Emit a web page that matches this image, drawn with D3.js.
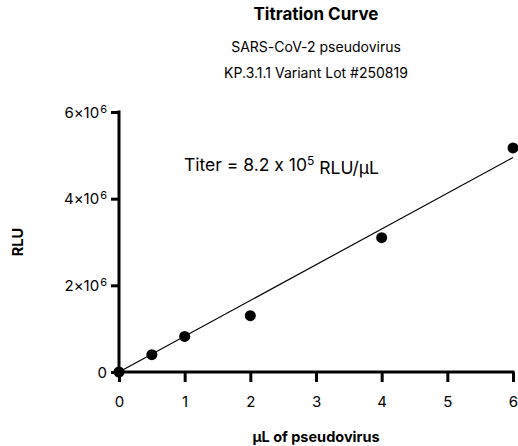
<!DOCTYPE html>
<html>
<head>
<meta charset="utf-8">
<script src="https://cdn.jsdelivr.net/npm/d3@7"></script>
<style>
  body { margin: 0; background: #fff; }
  text { font-family: Inter, "Noto Sans", sans-serif; fill: #000; font-feature-settings: "calt" 0; }
</style>
</head>
<body>
<script>
// data
const volumes = [0, 0.5, 1, 2, 4, 6];
const rlu = [0, 0.4e6, 0.82e6, 1.3e6, 3.1e6, 5.17e6];
const fitSlope = 8.25e5;
const xTicks = [0, 1, 2, 3, 4, 5, 6];
const yTicks = [0, 2e6, 4e6, 6e6];
const titles = ['Titration Curve', 'SARS-CoV-2 pseudovirus', 'KP.3.1.1 Variant Lot #250819'];

const width = 518, height = 446;
const margin = {left: 119, right: 5, top: 112, bottom: 74};

const svg = d3.select('body').append('svg')
    .attr('width', width)
    .attr('height', height);

const x = d3.scaleLinear().domain([0, 6]).range([margin.left, width - margin.right]);
const y = d3.scaleLinear().domain([0, 6e6]).range([height - margin.bottom, margin.top]);

// titles
const cx = (x.range()[0] + x.range()[1]) / 2;
svg.append('text').attr('x', cx).attr('y', 20).attr('text-anchor', 'middle')
    .attr('font-size', 17).attr('font-weight', 'bold').text(titles[0]);
svg.append('text').attr('x', cx).attr('y', 52).attr('text-anchor', 'middle')
    .attr('font-size', 14).text(titles[1]);
svg.append('text').attr('x', cx).attr('y', 78).attr('text-anchor', 'middle')
    .attr('font-size', 14).text(titles[2]);

// fit line
svg.append('line')
    .attr('x1', x(0)).attr('y1', y(0))
    .attr('x2', x(6)).attr('y2', y(6 * fitSlope))
    .attr('stroke', '#000').attr('stroke-width', 1.2);

// axes
const xAxis = svg.append('g')
    .attr('transform', `translate(0,${y(0)})`)
    .call(d3.axisBottom(x).tickValues(xTicks).tickSize(10).tickPadding(14).tickFormat(d3.format('d')));
const yAxis = svg.append('g')
    .attr('transform', `translate(${x(0)},0)`)
    .call(d3.axisLeft(y).tickValues(yTicks).tickSize(8).tickPadding(5).tickFormat(() => ''));

[xAxis, yAxis].forEach(g => {
    g.select('.domain').attr('stroke', '#000').attr('stroke-width', 3);
    g.selectAll('.tick line').attr('stroke', '#000').attr('stroke-width', 3);
    g.selectAll('text').attr('font-size', 15).attr('font-family', 'Inter, "Noto Sans", sans-serif').attr('fill', '#000');
});
xAxis.select('.domain').attr('d', `M${x(0) - 1.5},0H${x(6) + 1.5}`);
yAxis.select('.domain').attr('d', `M0,${y(6e6) - 1.5}V${y(0) + 1.5}`);

// y tick labels with superscripts
yAxis.selectAll('.tick text').each(function (d) {
    const t = d3.select(this).attr('x', -12).attr('dy', '0.35em');
    if (d === 0) { t.text('0'); return; }
    t.append('tspan').text(`${d / 1e6}×10`);
    t.append('tspan').attr('dx', 1).attr('dy', '-0.45em').attr('font-size', 11).text('6');
});

// points
svg.append('g').selectAll('circle')
    .data(volumes.map((v, i) => [v, rlu[i]]))
    .join('circle')
    .attr('cx', d => x(d[0]))
    .attr('cy', d => y(d[1]))
    .attr('r', 5.5)
    .attr('fill', '#000');

// annotation
const ann = svg.append('text').attr('x', 184).attr('y', 171).attr('font-size', 17.5);
ann.append('tspan').text('Titer = 8.2 x 10');
ann.append('tspan').attr('dy', '-0.5em').attr('font-size', 12).text('5');
ann.append('tspan').attr('dy', '0.5em').text(' RLU/μL');

// axis titles
svg.append('text').attr('x', cx).attr('y', 442).attr('text-anchor', 'middle')
    .attr('font-size', 14.5).attr('font-weight', 'bold').text('μL of pseudovirus');
svg.append('text').attr('transform', `translate(23,${y(3e6)}) rotate(-90)`)
    .attr('text-anchor', 'middle')
    .attr('font-size', 14.5).attr('font-weight', 'bold').text('RLU');
</script>
</body>
</html>
